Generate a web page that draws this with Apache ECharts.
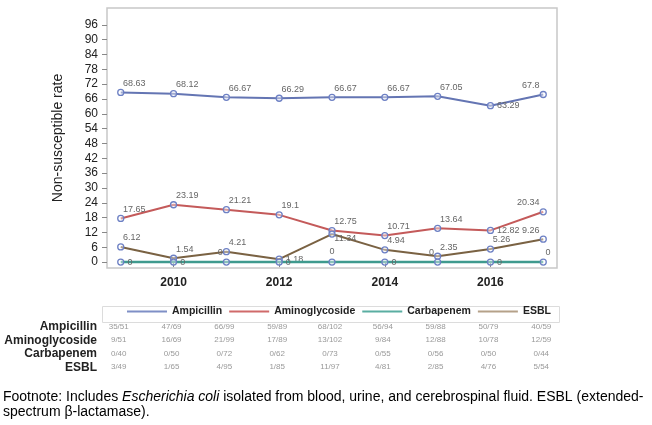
<!DOCTYPE html>
<html><head><meta charset="utf-8">
<script src="https://cdn.jsdelivr.net/npm/echarts@6/dist/echarts.min.js"></script>
<style>html,body{margin:0;padding:0;background:#fff}#c{width:652px;height:425px}</style>
</head><body><div id="c"></div><script>
const years = [2009, 2010, 2011, 2012, 2013, 2014, 2015, 2016, 2017];
const ampicillin = [68.63, 68.12, 66.67, 66.29, 66.67, 66.67, 67.05, 63.29, 67.8];
const aminoglycoside = [17.65, 23.19, 21.21, 19.1, 12.75, 10.71, 13.64, 12.82, 20.34];
const carbapenem = [0, 0, 0, 0, 0, 0, 0, 0, 0];
const esbl = [6.12, 1.54, 4.21, 1.18, 11.34, 4.94, 2.35, 5.26, 9.26];
const yTicks = [0, 6, 12, 18, 24, 30, 36, 42, 48, 54, 60, 66, 72, 78, 84, 90, 96];
const xTicks = [2010, 2012, 2014, 2016];
const tableRows = ['Ampicillin', 'Aminoglycoside', 'Carbapenem', 'ESBL'];
const ampicillinCounts = ['35/51', '47/69', '66/99', '59/89', '68/102', '56/94', '59/88', '50/79', '40/59'];
const aminoglycosideCounts = ['9/51', '16/69', '21/99', '17/89', '13/102', '9/84', '12/88', '10/78', '12/59'];
const carbapenemCounts = ['0/40', '0/50', '0/72', '0/62', '0/73', '0/55', '0/56', '0/50', '0/44'];
const esblCounts = ['3/49', '1/65', '4/95', '1/85', '11/97', '4/81', '2/85', '4/76', '5/54'];

const FONT = '"Liberation Sans", Arial, sans-serif';
const MARK = '#6d80c4';
const labelStyles = {
  ur: { position: [6, -10], align: 'left', verticalAlign: 'top' },
  ul: { position: [0, -10], align: 'right', verticalAlign: 'top' },
  r: { position: 'right', distance: 3 },
  l: { position: 'left', distance: 3 },
  t: { position: 'top', distance: 2 },
  br: { position: [6, 4], align: 'left', verticalAlign: 'top' }
};
const placements = {
  Ampicillin: ['ur','ur','ur','ur','ur','ur','ur','r','ul'],
  Aminoglycoside: ['ur','ur','ur','ur','ur','ur','ur','r','ul'],
  Carbapenem: ['r','r','ul','r','t','r','ul','r','ur'],
  ESBL: ['ur','ur','ur','r','br','ur','ur','ur','ul']
};
const colors = { Ampicillin: '#6475b3', Aminoglycoside: '#c45a5a', Carbapenem: '#3f9a8e', ESBL: '#7a6243' };
const legendColors = { Ampicillin: '#7f8fc6', Aminoglycoside: '#d06a6a', Carbapenem: '#5aaea2', ESBL: '#b5a189' };
const seriesValues = { Ampicillin: ampicillin, Aminoglycoside: aminoglycoside, Carbapenem: carbapenem, ESBL: esbl };
const countArrays = [ampicillinCounts, aminoglycosideCounts, carbapenemCounts, esblCounts];

const xMin = 2008.74, xMax = 2017.26;

const lineSeries = Object.keys(seriesValues).map(name => ({
  name, type: 'line', xAxisIndex: 0, yAxisIndex: 0,
  symbol: 'circle', symbolSize: 6,
  lineStyle: { color: colors[name], width: name === 'Carbapenem' ? 2.4 : 2 },
  itemStyle: { color: 'rgba(255,255,255,0.4)', borderColor: MARK, borderWidth: 1.3 },
  z: name === 'Carbapenem' ? 3 : 2,
  label: { show: true, fontSize: 9, color: '#666', fontFamily: FONT },
  data: years.map((y, i) => ({
    value: [y, seriesValues[name][i]],
    label: Object.assign({}, labelStyles[placements[name][i]])
  }))
}));

const tableSeries = tableRows.map((row, r) => ({
  name: 'table_' + row, type: 'scatter', xAxisIndex: 1, yAxisIndex: 1,
  symbolSize: 1, itemStyle: { color: 'rgba(0,0,0,0)' }, silent: true,
  label: { show: true, position: 'inside', offset: [-2, 0], fontSize: 8, color: '#808080', fontFamily: FONT,
    formatter: p => p.value[2] },
  data: years.map((y, i) => [y, row, countArrays[r][i]])
}));

const chart = echarts.init(document.getElementById('c'));
chart.setOption({
  animation: false,
  backgroundColor: '#fff',
  textStyle: { fontFamily: FONT },
  grid: [
    { left: 107, top: 8, width: 450, height: 260, show: true, borderColor: '#c8c8c8', borderWidth: 1.5, backgroundColor: '#fff' },
    { left: 107, top: 320, width: 450, height: 54 }
  ],
  xAxis: [
    { type: 'value', gridIndex: 0, min: xMin, max: xMax,
      axisLine: { show: false }, splitLine: { show: false },
      axisTick: { show: true, customValues: xTicks, length: 5, lineStyle: { color: '#888' } },
      axisLabel: { customValues: xTicks, formatter: v => String(v), fontSize: 12, fontWeight: 'bold', color: '#222', margin: 9, fontFamily: FONT } },
    { type: 'value', gridIndex: 1, min: xMin, max: xMax, show: false }
  ],
  yAxis: [
    { type: 'value', gridIndex: 0, min: -2.4, max: 102.8,
      name: 'Non-susceptible rate', nameLocation: 'middle', nameGap: 42, nameRotate: 90,
      nameTextStyle: { fontSize: 14, color: '#222', fontFamily: FONT },
      axisLine: { show: false }, splitLine: { show: false },
      axisTick: { show: true, customValues: yTicks, length: 5, lineStyle: { color: '#888' } },
      axisLabel: { customValues: yTicks, fontSize: 12, color: '#222', margin: 9, fontFamily: FONT } },
    { type: 'category', gridIndex: 1, data: tableRows, inverse: true,
      axisLine: { show: false }, axisTick: { show: false }, splitLine: { show: false },
      axisLabel: { interval: 0, fontSize: 12, fontWeight: 'bold', color: '#222', margin: 10, fontFamily: FONT } }
  ],
  legend: {
    left: 127, top: 306, padding: 0, itemWidth: 40, itemHeight: 2, itemGap: 7, icon: 'rect',
    selectedMode: false,
    textStyle: { fontSize: 10.5, fontWeight: 'bold', color: '#222', fontFamily: FONT },
    data: Object.keys(seriesValues).map(n => ({ name: n, itemStyle: { color: legendColors[n], borderWidth: 0 } }))
  },
  graphic: [
    { type: 'rect', left: 100, top: 304, shape: { width: 457, height: 16 },
      style: { fill: 'none', stroke: '#dcdcdc', lineWidth: 1 }, silent: true },
    { type: 'text', left: 3, top: 390, silent: true,
      style: {
        text: '{n|Footnote: Includes }{i|Escherichia coli}{n| isolated from blood, urine, and cerebrospinal fluid. ESBL (extended-}\n{n|spectrum β-lactamase).}',
        rich: {
          n: { fontSize: 14, color: '#222', fontFamily: FONT, lineHeight: 15 },
          i: { fontSize: 14, color: '#222', fontStyle: 'italic', fontFamily: FONT, lineHeight: 15 }
        }
      } }
  ],
  series: lineSeries.concat(tableSeries)
});
</script></body></html>
